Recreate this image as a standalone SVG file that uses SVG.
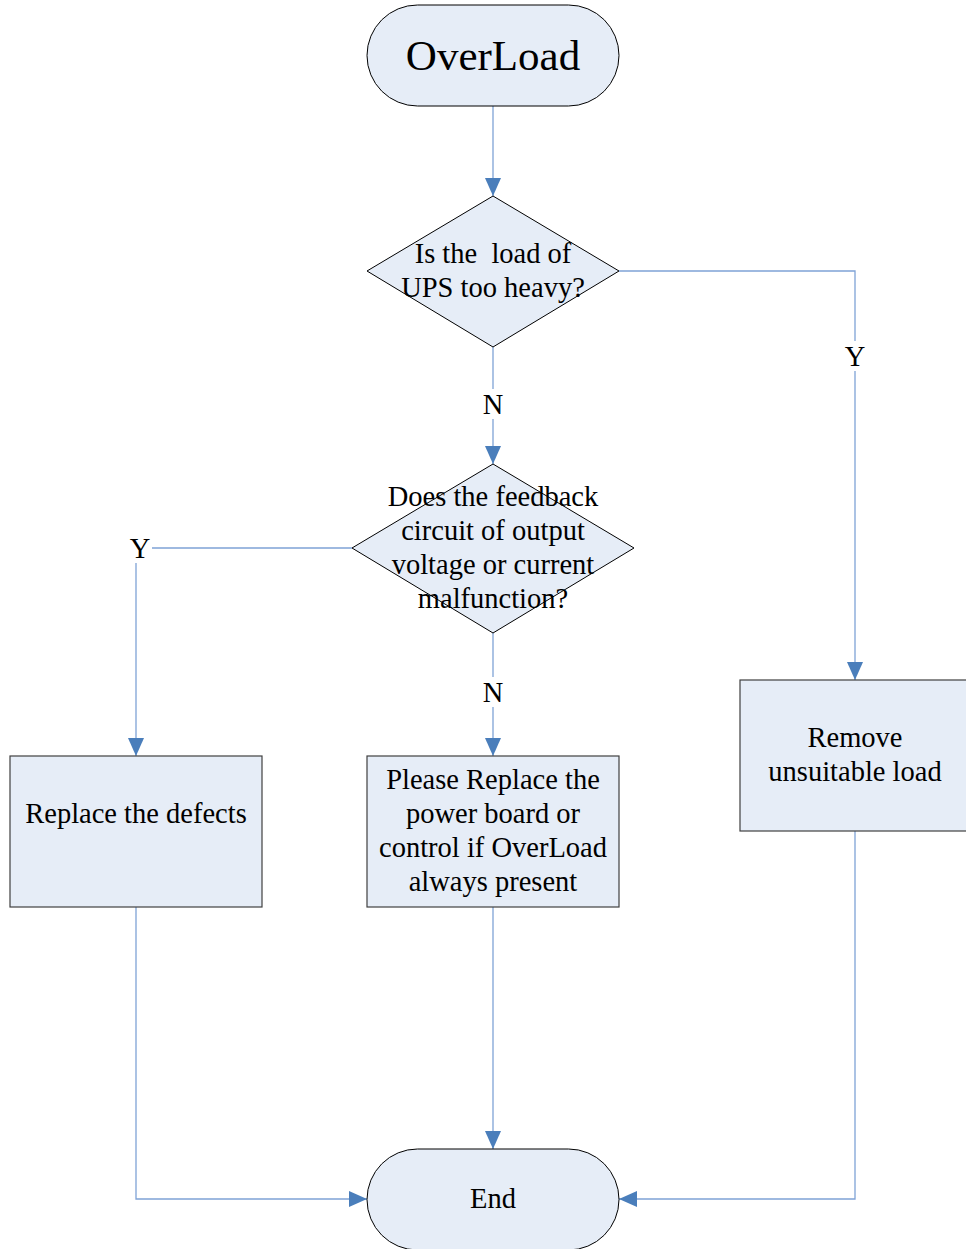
<svg xmlns="http://www.w3.org/2000/svg" width="966" height="1249" viewBox="0 0 966 1249">
  <defs>
    <marker id="arrow" viewBox="0 0 18 16" refX="18" refY="8" markerWidth="18" markerHeight="16" markerUnits="userSpaceOnUse" orient="auto">
      <path d="M0,0 L18,8 L0,16 Z" fill="#4a7ebb"/>
    </marker>
    <style>
      .shape { fill: #e6edf7; stroke: #000; stroke-width: 1; }
      .box { fill: #e6edf7; stroke: #404040; stroke-width: 1.2; }
      .txt { font-family: "Liberation Serif", "Times New Roman", serif; font-size: 28.5px; fill: #000; text-anchor: middle; white-space: pre; }
      .big { font-size: 43px; }
      .link { fill: none; stroke: #7fa3d6; stroke-width: 1.3; }
      .lbl { fill: #fff; }
    </style>
  </defs>
  <rect width="966" height="1249" fill="#fff"/>

  <!-- connectors -->
  <g id="connectors">
    <path class="link" d="M493,106 L493,196" marker-end="url(#arrow)"/>
    <path class="link" d="M493,347 L493,464" marker-end="url(#arrow)"/>
    <path class="link" d="M619,271 L855,271 L855,680" marker-end="url(#arrow)"/>
    <path class="link" d="M352,548 L136,548 L136,756" marker-end="url(#arrow)"/>
    <path class="link" d="M493,633 L493,756" marker-end="url(#arrow)"/>
    <path class="link" d="M493,907 L493,1149" marker-end="url(#arrow)"/>
    <path class="link" d="M136,907 L136,1199 L367,1199" marker-end="url(#arrow)"/>
    <path class="link" d="M855,831 L855,1199 L619,1199" marker-end="url(#arrow)"/>
    <!-- branch labels -->
    <rect class="lbl" x="843" y="341" width="24" height="30"/>
    <text class="txt" x="855" y="366">Y</text>
    <rect class="lbl" x="480" y="389" width="26" height="30"/>
    <text class="txt" x="493" y="414">N</text>
    <rect class="lbl" x="128" y="533" width="24" height="30"/>
    <text class="txt" x="140" y="558">Y</text>
    <rect class="lbl" x="480" y="677" width="26" height="30"/>
    <text class="txt" x="493" y="702">N</text>
  </g>

  <g id="start">
    <rect class="shape" x="367" y="5" width="252" height="101" rx="50.5" ry="50.5"/>
    <text class="txt big" x="493" y="70">OverLoad</text>
  </g>

  <g id="check-load">
    <polygon class="shape" points="493,196 619,271 493,347 367,271"/>
    <text class="txt" x="493" y="263">Is the  load of</text>
    <text class="txt" x="493" y="297">UPS too heavy?</text>
  </g>

  <g id="check-feedback">
    <polygon class="shape" points="493,464 634,548 493,633 352,548"/>
    <text class="txt" x="493" y="506">Does the feedback</text>
    <text class="txt" x="493" y="540">circuit of output</text>
    <text class="txt" x="493" y="574">voltage or current</text>
    <text class="txt" x="493" y="608">malfunction?</text>
  </g>

  <g id="replace-defects">
    <rect class="box" x="10" y="756" width="252" height="151"/>
    <text class="txt" x="136" y="823">Replace the defects</text>
  </g>

  <g id="replace-board">
    <rect class="box" x="367" y="756" width="252" height="151"/>
    <text class="txt" x="493" y="789">Please Replace the</text>
    <text class="txt" x="493" y="823">power board or</text>
    <text class="txt" x="493" y="857">control if OverLoad</text>
    <text class="txt" x="493" y="891">always present</text>
  </g>

  <g id="remove-load">
    <rect class="box" x="740" y="680" width="230" height="151"/>
    <text class="txt" x="855" y="747">Remove</text>
    <text class="txt" x="855" y="781">unsuitable load</text>
  </g>

  <g id="end">
    <rect class="shape" x="367" y="1149" width="252" height="101" rx="50.5" ry="50.5"/>
    <text class="txt" x="493" y="1208">End</text>
  </g>
</svg>
